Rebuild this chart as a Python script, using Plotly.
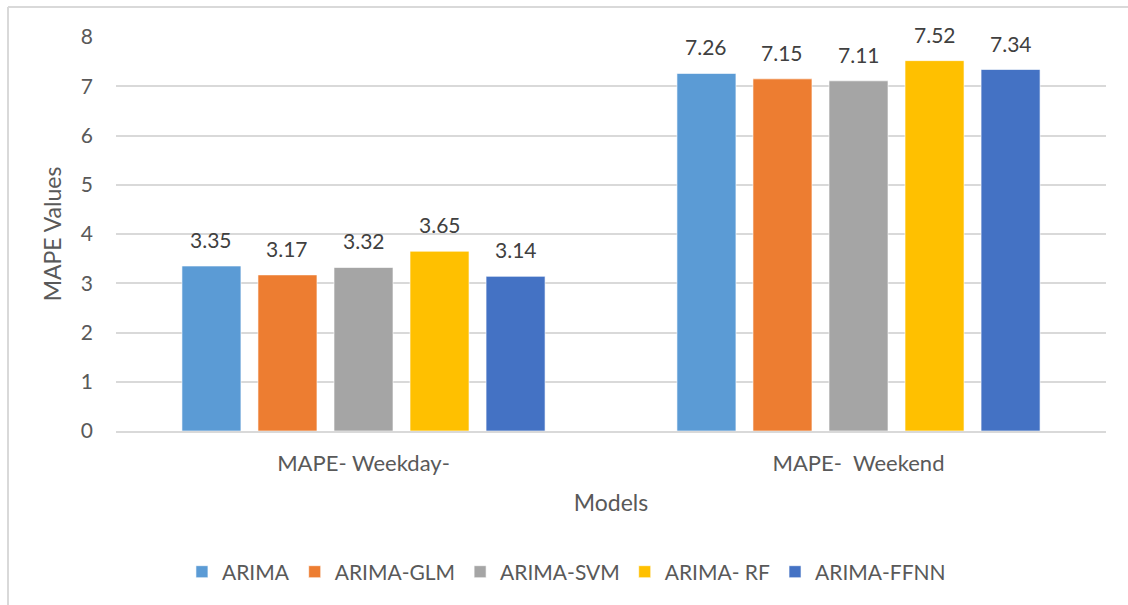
import plotly.graph_objects as go

# Forecast error (MAPE) per model, weekday vs weekend
categories = ["MAPE- Weekday-", "MAPE-\u00a0 Weekend"]
models = ["ARIMA", "ARIMA-GLM", "ARIMA-SVM", "ARIMA- RF", "ARIMA-FFNN"]
mape_values = {
    "ARIMA": [3.35, 7.26],
    "ARIMA-GLM": [3.17, 7.15],
    "ARIMA-SVM": [3.32, 7.11],
    "ARIMA- RF": [3.65, 7.52],
    "ARIMA-FFNN": [3.14, 7.34],
}
colors = ["#5B9BD5", "#ED7D31", "#A5A5A5", "#FFC000", "#4472C4"]
y_ticks = [0, 1, 2, 3, 4, 5, 6, 7, 8]

FONT = "Lato"
TEXT = "#595959"
GRID = "#D9D9D9"

W, H = 1128, 605
M_L, M_R, M_T, M_B = 116, 22, 37, 174
BARGAP = 0.232
plot_w = W - M_L - M_R
slot = plot_w / len(categories) * (1 - BARGAP) / len(models)

fig = go.Figure()
for i, (name, col) in enumerate(zip(models, colors)):
    fig.add_trace(go.Bar(
        name=name, x=categories, y=mape_values[name],
        marker=dict(color=col, line=dict(color="rgba(255,255,255,0.6)", width=1)),
    ))

# value labels above each bar
annotations = []
for i, name in enumerate(models):
    for cat, v in zip(categories, mape_values[name]):
        annotations.append(dict(
            x=cat, y=v, xref="x", yref="y", text=f"{v:.2f}", showarrow=False,
            xshift=(i - (len(models) - 1) / 2) * slot, yshift=12, yanchor="bottom",
            font=dict(family=FONT, size=21, color="#404040"),
        ))

# chart frame
px = lambda x: (x - M_L) / plot_w
py = lambda y: (H - M_B - y) / (H - M_T - M_B)
shapes = [
    dict(type="line", xref="paper", yref="paper", x0=px(8), x1=px(8), y0=py(7), y1=py(640),
         line=dict(color=GRID, width=2)),
    dict(type="line", xref="paper", yref="paper", x0=px(8), x1=px(1140), y0=py(7), y1=py(7),
         line=dict(color=GRID, width=2)),
]

fig.update_layout(
    width=W, height=H,
    margin=dict(l=M_L, r=M_R, t=M_T, b=M_B),
    paper_bgcolor="white", plot_bgcolor="white",
    barmode="group", bargap=BARGAP, bargroupgap=0.224,
    font=dict(family=FONT, color=TEXT),
    annotations=annotations, shapes=shapes,
    legend=dict(orientation="h", x=0.455, xanchor="center", y=-0.358, yanchor="middle",
                font=dict(family=FONT, size=21, color=TEXT), traceorder="normal",
                itemwidth=30),
    xaxis=dict(
        showline=True, linecolor=GRID, linewidth=2, ticks="", ticklabelstandoff=12,
        tickfont=dict(size=22, color=TEXT),
        title=dict(text="Models", font=dict(size=23, color=TEXT), standoff=19),
    ),
    yaxis=dict(
        range=[0, 8], tickvals=y_ticks, showgrid=True, gridcolor=GRID, gridwidth=1.5,
        zeroline=False, showline=False, ticks="", ticklabelstandoff=22,
        tickfont=dict(size=21, color=TEXT),
        title=dict(text="MAPE Values", font=dict(size=23, color=TEXT), standoff=12),
    ),
)

fig.write_html("out.html")
